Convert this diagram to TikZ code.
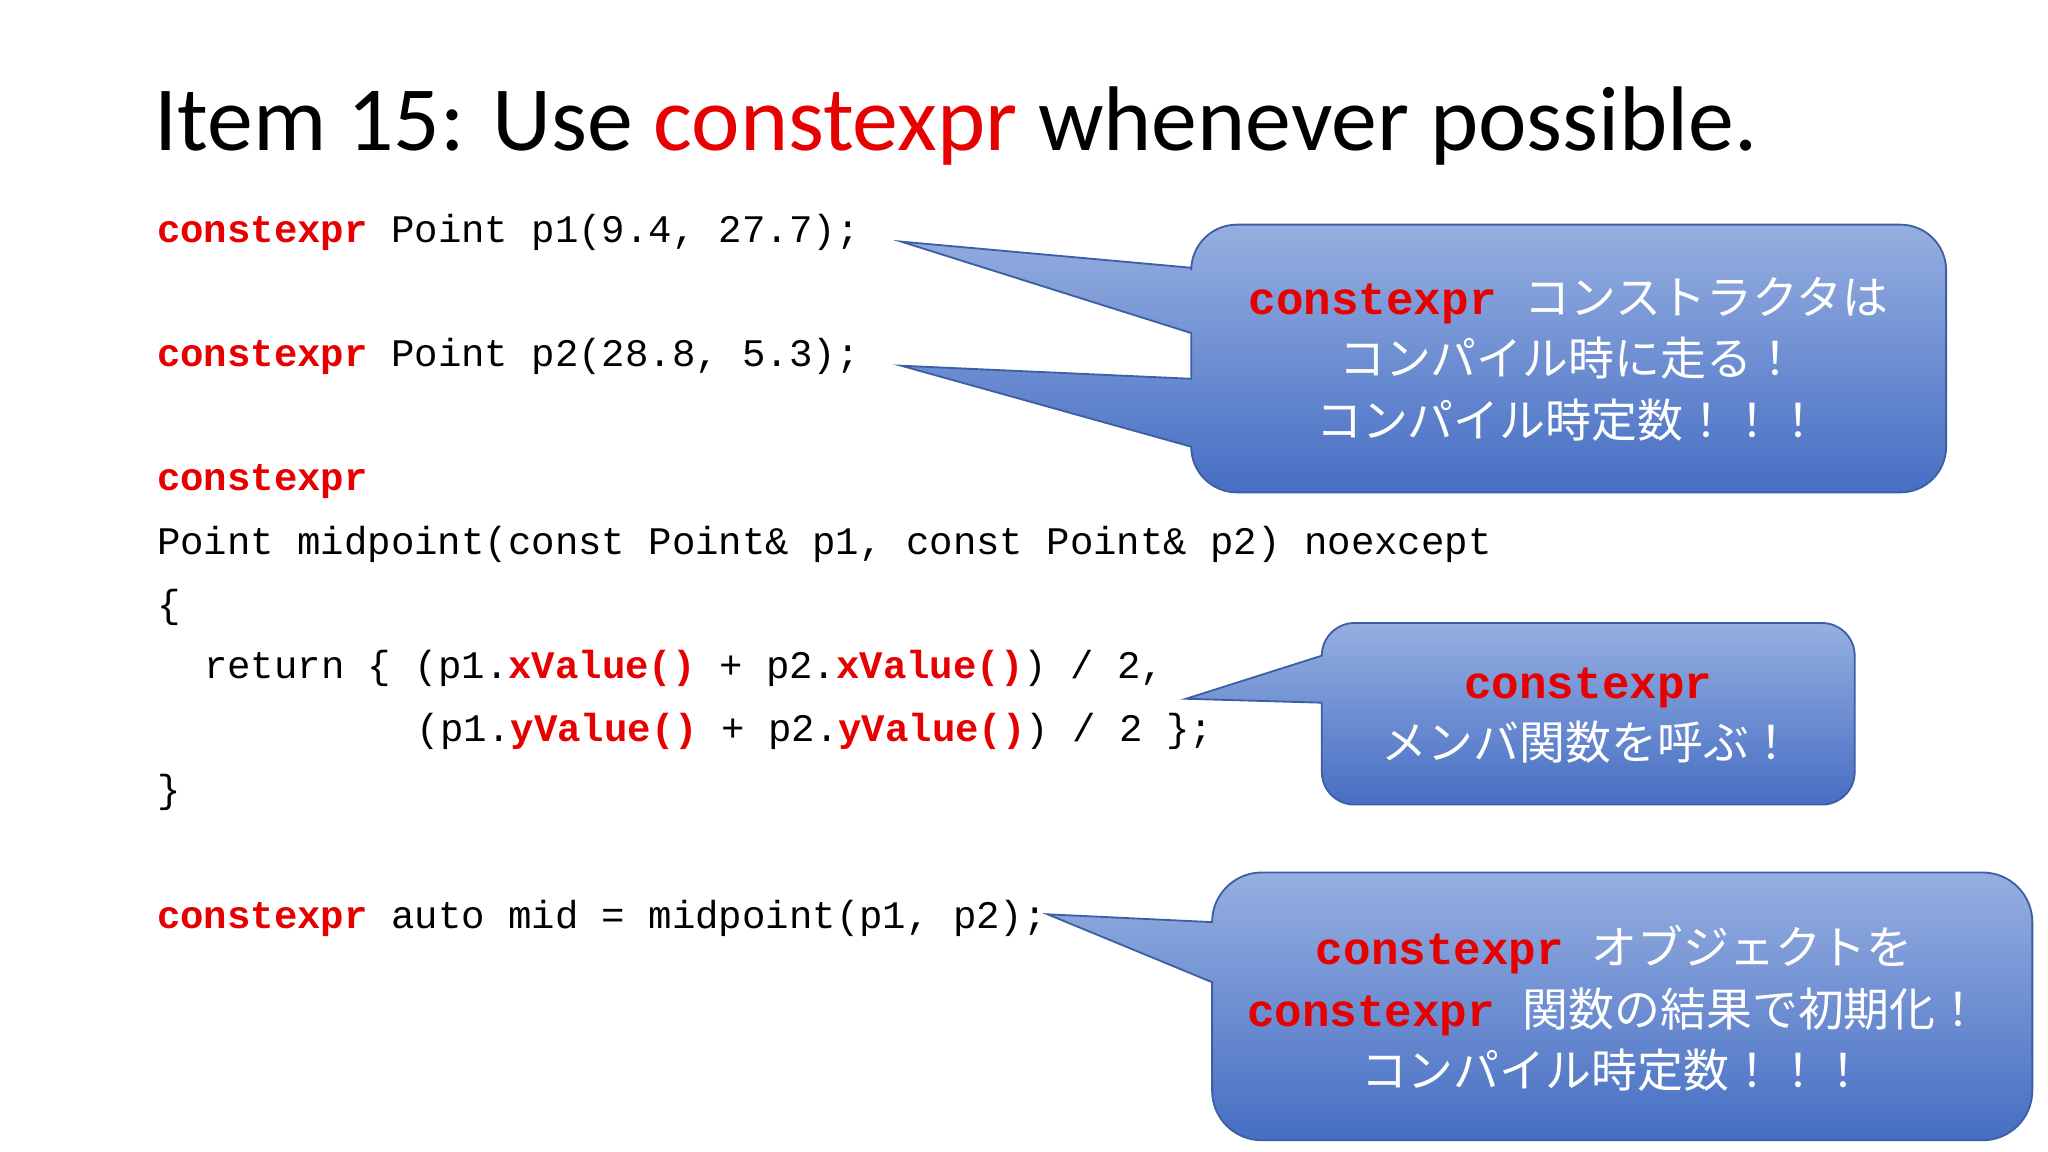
\documentclass[tikz,border=0pt]{standalone}
\usepackage{fontspec}
\setmainfont{Carlito}
\setmonofont{Liberation Mono}
\newfontfamily\jp{Noto Sans CJK JP}
\definecolor{kw}{RGB}{230,0,0}
\definecolor{cotop}{RGB}{150,175,225}
\definecolor{cobot}{RGB}{70,110,195}
\definecolor{coedge}{RGB}{60,95,165}
\tikzset{
 code/.style={anchor=west,inner sep=0pt,font=\ttfamily\fontsize{25.5pt}{28pt}\selectfont},
 callout/.style={top color=cotop,bottom color=cobot,draw=coedge,line width=1.2pt},
 ctext/.style={text=white,align=center,inner sep=0pt,font=\jp\fontsize{30pt}{40pt}\selectfont},
}
\newcommand{\kw}[1]{\textcolor{kw}{\bfseries\ttfamily #1}}
\newcommand{\ckw}[1]{\textcolor{kw}{\bfseries\ttfamily\fontsize{30pt}{40pt}\selectfont #1}}
\begin{document}
\begin{tikzpicture}[x=0.3mm,y=-0.3mm]
\useasboundingbox (0,0) rectangle (1568,882);
\fill[white] (0,0) rectangle (1568,882);
\node[anchor=base west,inner sep=0pt,font=\fontsize{60pt}{64pt}\selectfont] (title) at (118,115)
 {Item 15: Use \textcolor{kw}{constexpr} whenever possible.};
% code
\node[code] (c1) at (120,178) {\kw{constexpr} Point p1(9.4, 27.7);};
\node[code] (c2) at (120,273) {\kw{constexpr} Point p2(28.8, 5.3);};
\node[code] (c3) at (120,369) {\kw{constexpr}};
\node[code] (c4) at (120,417) {Point midpoint(const Point\& p1, const Point\& p2) noexcept};
\node[code] (c5) at (120,465) {\{};
\node[code] (c6) at (156,512) {return \{ (p1.\kw{xValue()} + p2.\kw{xValue()}) / 2,};
\node[code] (c7) at (319,560) {(p1.\kw{yValue()} + p2.\kw{yValue()}) / 2 \};};
\node[code] (c8) at (120,607) {\}};
\node[code] (c9) at (120,703) {\kw{constexpr} auto mid = midpoint(p1, p2);};
% callout 1
\draw[callout] (912,205) -- (690,185) -- (912,255) -- (912,290) -- (690,280) -- (912,342)
 -- (912,342) arc[start angle=180,end angle=90,radius=35] -- (1455,377)
 arc[start angle=90,end angle=0,radius=35] -- (1490,207)
 arc[start angle=0,end angle=-90,radius=35] -- (947,172)
 arc[start angle=-90,end angle=-180,radius=35] -- cycle;
\node[ctext] (t1) at (1201,275) {\ckw{constexpr}\hspace{0.6em}コンストラクタは\\コンパイル時に走る！\\コンパイル時定数！！！};
% callout 2
\draw[callout] (1012,502) -- (908,535) -- (1012,538)
 -- (1012,591) arc[start angle=180,end angle=90,radius=25] -- (1395,616)
 arc[start angle=90,end angle=0,radius=25] -- (1420,502)
 arc[start angle=0,end angle=-90,radius=25] -- (1037,477)
 arc[start angle=-90,end angle=-180,radius=25] -- cycle;
\node[ctext] (t2) at (1216,548) {\ckw{constexpr}\\メンバ関数を呼ぶ！};
% callout 3
\draw[callout] (928,706) -- (802,700) -- (928,752)
 -- (928,835) arc[start angle=180,end angle=90,radius=38] -- (1518,873)
 arc[start angle=90,end angle=0,radius=38] -- (1556,706)
 arc[start angle=0,end angle=-90,radius=38] -- (966,668)
 arc[start angle=-90,end angle=-180,radius=38] -- cycle;
\node[ctext] (t3) at (1236,772) {\ckw{constexpr}\hspace{0.6em}オブジェクトを\\\ckw{constexpr}\hspace{0.6em}関数の結果で初期化！\\コンパイル時定数！！！};
\end{tikzpicture}
\end{document}
